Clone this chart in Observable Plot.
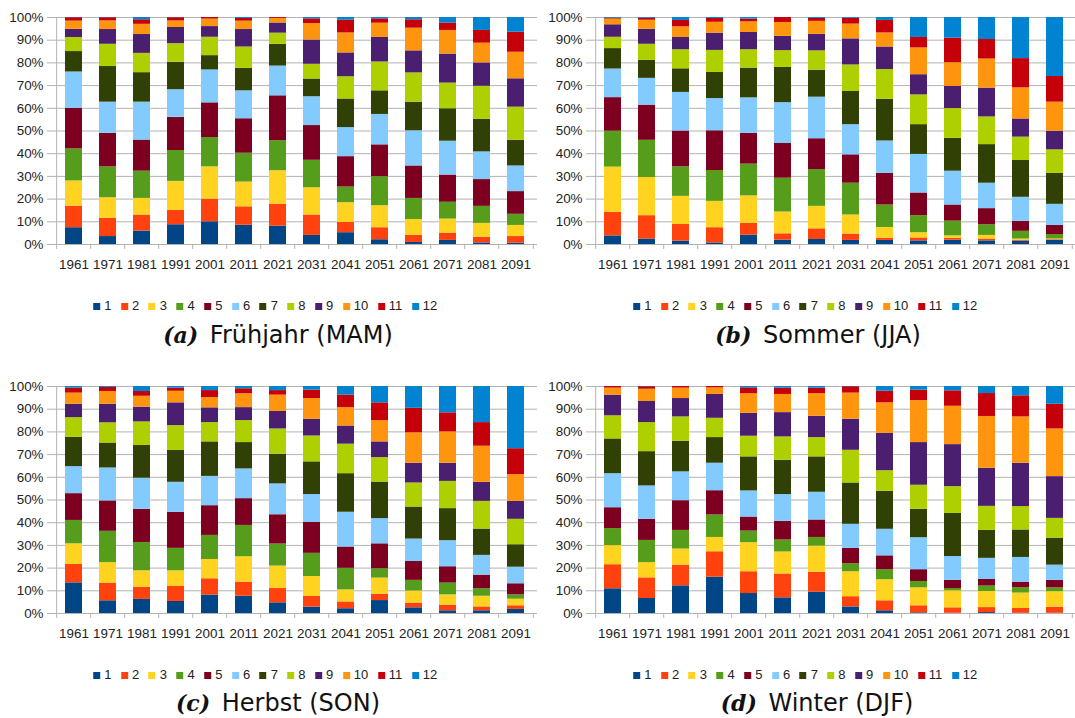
<!DOCTYPE html>
<html><head><meta charset="utf-8">
<script src="https://cdn.jsdelivr.net/npm/d3@7"></script>
<script src="https://cdn.jsdelivr.net/npm/@observablehq/plot@0.6"></script>
<style>
body{margin:0;background:#fff;width:1075px;height:718px;position:relative;overflow:hidden;font-family:"Liberation Sans",Arial,sans-serif;}
.panel{position:absolute;}
.legend{position:absolute;display:flex;align-items:center;font-size:13px;color:#222;height:14px;line-height:14px;white-space:nowrap;}
.legend .item{display:flex;align-items:center;margin-right:9.5px}
.legend .sw{width:7px;height:7px;margin-right:4px}
.caption{position:absolute;font-family:"DejaVu Sans";font-size:24px;line-height:24px;color:#111;white-space:nowrap;transform:translateX(-50%)}
.caption b{font-family:"DejaVu Serif";font-style:italic;font-weight:bold;font-size:22px;margin-right:4px}
</style></head>
<body>
<script>
const years = ["1961","1971","1981","1991","2001","2011","2021","2031","2041","2051","2061","2071","2081","2091"];
const months = ["1","2","3","4","5","6","7","8","9","10","11","12"];
const colors = ["#004586","#ff420e","#ffd320","#579d1c","#7e0021","#83caff","#314004","#aecf00","#4b1f6f","#ff950e","#c5000b","#0084d1"];
const yTicks = [0,0.1,0.2,0.3,0.4,0.5,0.6,0.7,0.8,0.9,1];

// Frühjahr (MAM): one row per year, values for classes 1..12 (%)
const mam = [
 [7.4, 9.5, 11.1, 14.1, 17.9, 16, 9, 6.2, 3.6, 3.6, 1.5, 0.1],
 [3.5, 8, 9.1, 13.6, 14.8, 13.7, 15.7, 9.8, 6.5, 3.8, 1.4, 0.1],
 [5.9, 7.1, 7.3, 12, 13.7, 16.7, 13, 8.5, 8.3, 4.5, 2, 1],
 [8.7, 6.3, 12.8, 13.6, 14.6, 12.2, 12.1, 8.2, 7.1, 2.9, 1.4, 0.1],
 [10, 10, 14.2, 12.9, 15.3, 14.5, 6.3, 8.1, 4.7, 3.3, 0.7, 0],
 [8.5, 8.1, 10.9, 12.7, 15.2, 12.3, 9.9, 9.4, 7.7, 3.7, 1.2, 0.4],
 [8.1, 9.7, 14.7, 13.2, 19.8, 13.1, 9.6, 4.9, 4.5, 2, 0.4, 0],
 [4, 9, 12, 12.1, 15.3, 12.7, 7.8, 6.5, 10.7, 7.2, 2.1, 0.6],
 [5.2, 4.5, 8.7, 6.9, 13.4, 12.8, 12.6, 9.8, 10.5, 8.8, 5.6, 1.2],
 [2.1, 5.3, 9.7, 12.8, 14, 13.4, 10.4, 12.7, 10.8, 6.3, 1.9, 0.6],
 [0.9, 3.1, 7, 9.3, 14.3, 15.5, 12.6, 12.9, 9.7, 10, 3.7, 1],
 [1.8, 3.2, 6.2, 7.4, 12, 14.9, 14.3, 11.3, 12.8, 10.4, 3.3, 2.4],
 [0.7, 2.5, 6.1, 7.5, 11.8, 12.2, 14.4, 14.5, 10.3, 8.7, 5.6, 5.7],
 [0.6, 2.9, 4.9, 4.9, 10, 11.3, 11.3, 14.6, 12.5, 11.7, 8.8, 6.5]
];
// Sommer (JJA)
const jja = [
 [3.8, 10.4, 19.9, 15.8, 14.8, 12.6, 9, 5, 5.5, 2.5, 0.4, 0.3],
 [2.4, 10.3, 16.8, 16.4, 15.5, 11.8, 7.9, 7.1, 6.6, 4, 0.9, 0.3],
 [1.5, 7.3, 12.4, 13, 15.8, 17, 10.4, 8.4, 5.4, 4.7, 2.8, 1.3],
 [0.7, 6.7, 11.6, 13.6, 17.5, 14.2, 11.5, 9.7, 7.6, 4.8, 1.7, 0.4],
 [4.1, 5.2, 12.1, 14, 13.6, 15.6, 13.1, 8.1, 7.6, 4.7, 1.2, 0.7],
 [1.9, 2.8, 9.6, 14.9, 15.3, 18, 15.5, 7.4, 6.3, 6.1, 2.2, 0],
 [2.2, 4.7, 9.9, 16.2, 13.6, 18.3, 11.9, 8.5, 7.3, 5.7, 1.3, 0.4],
 [1.8, 2.8, 8.4, 14, 12.5, 13.3, 14.6, 11.7, 11.5, 6.5, 2.6, 0.3],
 [1.8, 0.9, 4.8, 9.9, 13.9, 14.3, 18.4, 13.1, 9.9, 6.2, 5.5, 1.3],
 [1.6, 1.3, 2.3, 7.5, 10, 17, 13.1, 13.1, 8.9, 11.8, 4.6, 8.8],
 [1.9, 0.8, 1.1, 6.5, 7.1, 14.9, 14.5, 13.1, 9.7, 10.5, 10.8, 9.1],
 [1.6, 0.8, 1.6, 4.7, 7.1, 11.2, 17, 12.2, 12.7, 12.8, 8.6, 9.7],
 [1.5, 0.4, 0.5, 3.4, 4.4, 10.6, 16.2, 10.3, 8, 13.7, 12.9, 18.1],
 [1.8, 0.3, 0.3, 2, 4, 9.3, 13.6, 10.4, 8.2, 12.8, 11.3, 26]
];
// Herbst (SON)
const son = [
 [13.5, 8.1, 9.1, 10.3, 11.8, 11.9, 12.9, 8.7, 5.9, 4.9, 2.2, 0.7],
 [5.6, 7.8, 9, 13.8, 13.4, 14.5, 11, 8.9, 8.2, 5.6, 1.8, 0.4],
 [6.2, 5.3, 7.3, 12.5, 14.6, 13.7, 14.4, 10.4, 6.5, 4.8, 2.1, 2.2],
 [5.3, 6.6, 6.9, 9.9, 15.9, 13.2, 14, 11, 10, 5.1, 1.4, 0.7],
 [8.1, 7.2, 8.5, 10.6, 13.1, 12.9, 15.2, 8.5, 6.5, 4.5, 3.1, 1.8],
 [7.6, 6.2, 11.2, 13.8, 11.8, 13.1, 11.6, 9.7, 5.7, 6.1, 2.2, 1],
 [4.7, 6.3, 9.9, 9.7, 12.9, 13.6, 13.1, 11.1, 7.7, 7.2, 2, 1.8],
 [2.8, 4.7, 8.8, 10.2, 13.6, 12.3, 14.4, 11.4, 7.4, 9.1, 3.7, 1.6],
 [2.1, 3, 5.3, 9.5, 9.4, 15.3, 17, 13, 8, 8.1, 5.5, 3.8],
 [5.7, 2.8, 7.1, 4.1, 11, 11.1, 16.1, 10.8, 6.9, 9.4, 7.8, 7.2],
 [2.5, 2.1, 5.3, 4.7, 8.3, 9.9, 14.1, 10.6, 8.7, 13.4, 10.8, 9.6],
 [1.2, 2.5, 4.5, 5.2, 7.2, 11.5, 14.1, 12, 8, 13.8, 8.4, 11.6],
 [1.2, 1.7, 4.7, 3.3, 6, 8.7, 11.6, 12.2, 8.4, 15.9, 10.4, 15.9],
 [1.8, 1.6, 2.9, 1.9, 4.9, 7.3, 9.9, 11.2, 7.9, 11.8, 11.4, 27.4]
];
// Winter (DJF)
const djf = [
 [10.9, 10.6, 8.4, 7.5, 9.2, 15, 15.3, 10.2, 9.1, 3.1, 0.7, 0],
 [6.6, 9.1, 6.7, 9.8, 9.3, 14.7, 15.1, 12.8, 9.3, 5.4, 1.1, 0.1],
 [12.2, 9.1, 7.1, 8.2, 13.1, 12.7, 13.5, 10.7, 8.1, 4.6, 0.7, 0],
 [16, 11.2, 6.3, 9.9, 10.7, 12.1, 11.3, 8.5, 10.5, 2.9, 0.6, 0],
 [8.8, 9.6, 12.8, 5.1, 6.2, 11.5, 15, 9.1, 10.1, 8.6, 2.6, 0.6],
 [6.9, 10.5, 9.7, 5.3, 8.2, 11.8, 15.1, 10.3, 10.7, 8, 2.8, 0.7],
 [9.4, 8.8, 11.5, 3.8, 7.7, 12.2, 15.6, 8.5, 9.4, 10, 2.4, 0.7],
 [2.9, 4.5, 11, 3.5, 6.8, 10.6, 18.2, 14.4, 13.7, 11.5, 2.8, 0.1],
 [1.2, 4.4, 9.3, 4.4, 6.1, 11.7, 16.7, 9.1, 16.5, 13.4, 5.1, 2.1],
 [0.3, 3.1, 7.9, 2.8, 5.2, 14.1, 12.5, 10.6, 18.8, 18.5, 4.6, 1.6],
 [0.1, 2.4, 7.5, 1, 3.6, 10.5, 19, 11.8, 18.5, 16.9, 6.8, 1.9],
 [0.4, 2.2, 7.1, 2.4, 2.9, 9.3, 12.3, 10.6, 16.8, 22.8, 10.1, 3.1],
 [0.1, 2.1, 6.8, 2.3, 2.5, 10.9, 12.1, 10.3, 19.1, 20.4, 9.3, 4.1],
 [0.1, 2.7, 6.8, 1.7, 3.3, 6.7, 11.9, 8.7, 18.4, 21, 10.9, 7.8]
];

const panels = [
  {data: mam, letter: "(a)", title: "Frühjahr (MAM)", left: 0, top: 5, width: 540, ml: 52, mr: 3, legendX: 270, legendY: 299, capX: 278, capY: 323},
  {data: jja, letter: "(b)", title: "Sommer (JJA)", left: 539, top: 5, width: 536, ml: 52, mr: 0, legendX: 810, legendY: 299, capX: 818, capY: 323},
  {data: son, letter: "(c)", title: "Herbst (SON)", left: 0, top: 374, width: 540, ml: 52, mr: 3, legendX: 270, legendY: 668, capX: 278, capY: 691},
  {data: djf, letter: "(d)", title: "Winter (DJF)", left: 539, top: 374, width: 536, ml: 52, mr: 0, legendX: 810, legendY: 668, capX: 817, capY: 691}
];

const gray = "#b3b3b3";

for (const p of panels) {
  const rows = years.flatMap((yr, i) => months.map((m, j) => ({year: yr, month: m, value: p.data[i][j]})));
  const W = p.width - p.ml - p.mr;
  const step = W / years.length;
  const svg = Plot.plot({
    width: p.width, height: 269,
    marginTop: 12, marginBottom: 30, marginLeft: p.ml, marginRight: p.mr,
    style: {fontFamily: "'Liberation Sans', Arial, sans-serif", fontSize: "13.4px", color: "#222", background: "transparent", overflow: "visible"},
    x: {domain: years, paddingInner: 0.5, paddingOuter: 0.25, label: null},
    y: {domain: [0, 1], label: null},
    color: {domain: months, range: colors},
    marks: [
      Plot.gridY(yTicks, {stroke: gray, strokeOpacity: 1}),
      Plot.axisY(yTicks, {tickSize: 5, tickPadding: 4, stroke: gray, strokeOpacity: 1, fill: "#222", tickFormat: d => Math.round(d * 100) + "%"}),
      Plot.barY(rows, Plot.stackY({offset: "normalize"}, {x: "year", y: "value", fill: "month"})),
      Plot.ruleX([years[0]], {dx: -step / 2, y1: -0.022, y2: 1, stroke: gray}),
      Plot.ruleX(years.slice(1), {dx: -step / 2, y1: 0, y2: -0.022, stroke: gray}),
      Plot.ruleX([years[years.length - 1]], {dx: step / 2, y1: 0, y2: -0.022, stroke: gray}),
      Plot.axisX({tickSize: 0, tickPadding: 15, fill: "#222"})
    ]
  });
  const div = document.createElement("div");
  div.className = "panel";
  div.style.left = p.left + "px";
  div.style.top = p.top + "px";
  div.appendChild(svg);
  document.body.appendChild(div);

  const leg = document.createElement("div");
  leg.className = "legend";
  leg.style.left = p.legendX + "px";
  leg.style.top = p.legendY + "px";
  leg.style.transform = "translateX(-50%)";
  months.forEach((m, j) => {
    const it = document.createElement("span");
    it.className = "item";
    const sw = document.createElement("span");
    sw.className = "sw";
    sw.style.background = colors[j];
    it.appendChild(sw);
    it.appendChild(document.createTextNode(m));
    leg.appendChild(it);
  });
  document.body.appendChild(leg);

  const cap = document.createElement("div");
  cap.className = "caption";
  cap.style.left = p.capX + "px";
  cap.style.top = p.capY + "px";
  const b = document.createElement("b");
  b.textContent = p.letter;
  cap.appendChild(b);
  cap.appendChild(document.createTextNode(" " + p.title));
  document.body.appendChild(cap);
}
</script>
</body></html>
